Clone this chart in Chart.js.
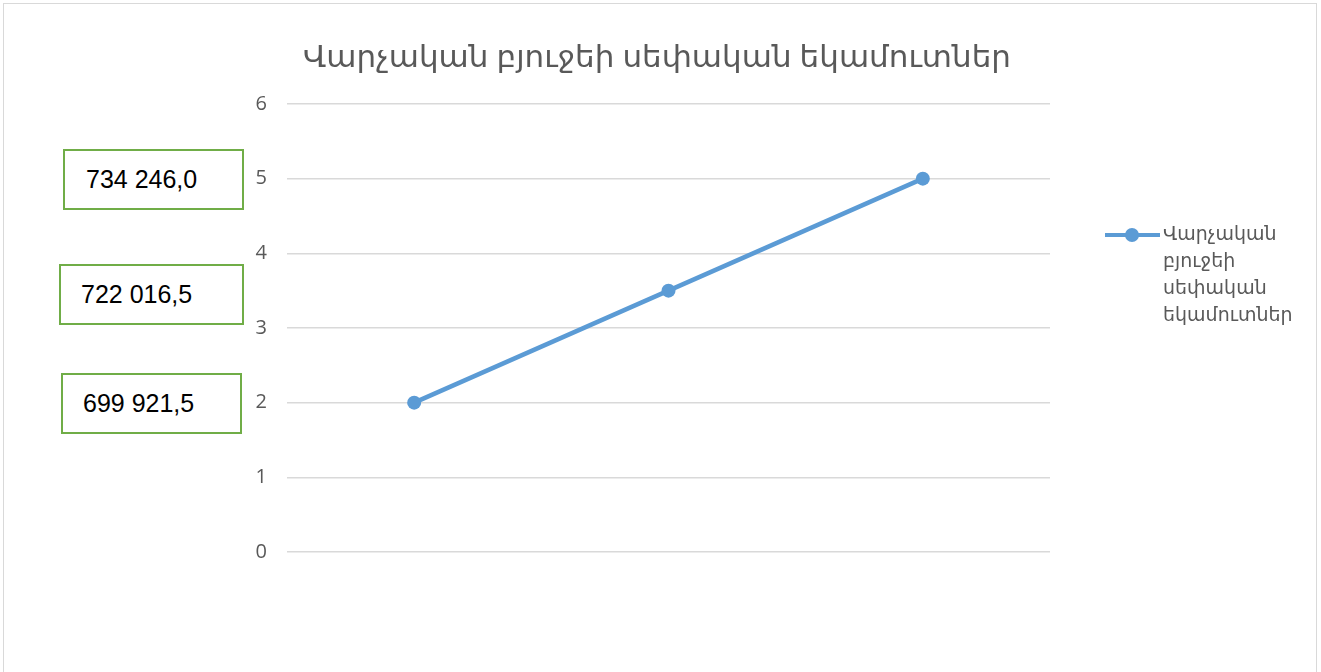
<!DOCTYPE html>
<html>
<head>
    <title>Վարչական բյուջեի սեփական եկամուտներ</title>
    <script src="https://cdn.jsdelivr.net/npm/chart.js"></script>
    <style>
        body {
            margin: 0;
            background: #fff;
            font-family: "Open Sans", "DejaVu Sans", sans-serif;
        }
        .wrap {
            position: relative;
            width: 1321px;
            height: 672px;
            overflow: hidden;
        }
        .frame {
            position: absolute;
            left: 3px;
            top: 3px;
            width: 1312px;
            height: 700px;
            border: 1px solid #d9d9d9;
        }
        canvas {
            position: absolute;
            left: 0;
            top: 0;
        }
        .note {
            position: absolute;
            box-sizing: border-box;
            height: 61px;
            border: 2px solid #70ad47;
            background: #fff;
            color: #000;
            font-family: "Liberation Sans", Arial, sans-serif;
            font-size: 25px;
            line-height: 57px;
        }
    </style>
</head>
<body>
    <div class="wrap">
        <div class="frame"></div>
        <canvas id="chart" width="1321" height="672"></canvas>
        <div id="notes"></div>
    </div>
    <script>
        var title = 'Վարչական բյուջեի սեփական եկամուտներ';
        var categories = ['1', '2', '3'];
        var values = [2, 3.5, 5];
        var yTicks = [0, 1, 2, 3, 4, 5, 6];
        // text boxes on the left and the value they sit next to
        var noteTexts = ['734 246,0', '722 016,5', '699 921,5'];
        var noteLevels = [5, 3.45, 2];
        var noteLeft = [63, 59, 61];
        var noteWidth = [181, 185, 181];
        var notePad = [21, 20, 20];

        var blue = '#5b9bd5';
        var grey = '#595959';

        var titlePlugin = {
            id: 'titleAndLegend',
            afterDraw: function(chart) {
                var c = chart.ctx;
                c.save();
                c.fillStyle = grey;
                c.textAlign = 'center';
                c.textBaseline = 'middle';
                c.font = '31px "Open Sans", "DejaVu Sans", sans-serif';
                c.fillText(title, 657, 58);

                // legend on the right, label wrapped word by word
                var ly = 235;
                c.strokeStyle = blue;
                c.lineWidth = 4;
                c.beginPath();
                c.moveTo(1105, ly);
                c.lineTo(1160, ly);
                c.stroke();
                c.fillStyle = blue;
                c.beginPath();
                c.arc(1132, ly, 7, 0, Math.PI * 2);
                c.fill();
                c.fillStyle = grey;
                c.textAlign = 'left';
                c.font = '19px "Open Sans", "DejaVu Sans", sans-serif';
                title.split(' ').forEach(function(w, i) {
                    c.fillText(w, 1163, ly + i * 27);
                });
                c.restore();
            }
        };

        var ctx = document.getElementById('chart').getContext('2d');
        var chart = new Chart(ctx, {
            type: 'line',
            data: {
                labels: categories,
                datasets: [{
                    label: title,
                    data: values,
                    borderColor: blue,
                    backgroundColor: blue,
                    borderWidth: 4.5,
                    pointRadius: 7,
                    pointHoverRadius: 7,
                    pointBorderWidth: 0,
                    tension: 0
                }]
            },
            options: {
                responsive: false,
                animation: false,
                layout: {
                    padding: { top: 104, bottom: 120, left: 227, right: 271 }
                },
                plugins: {
                    legend: { display: false },
                    title: { display: false },
                    tooltip: { enabled: false }
                },
                scales: {
                    x: {
                        display: false,
                        offset: true
                    },
                    y: {
                        min: 0,
                        max: 6,
                        afterFit: function(s) { s.width = 60; },
                        afterBuildTicks: function(s) {
                            s.ticks = yTicks.map(function(v) { return { value: v }; });
                        },
                        border: { display: false },
                        grid: {
                            color: '#d9d9d9',
                            lineWidth: 1.5,
                            drawTicks: false
                        },
                        ticks: {
                            padding: 20,
                            color: grey,
                            font: { family: '"Open Sans", "DejaVu Sans", sans-serif', size: 20 }
                        }
                    }
                }
            },
            plugins: [titlePlugin]
        });

        var holder = document.getElementById('notes');
        noteTexts.forEach(function(t, i) {
            var d = document.createElement('div');
            d.className = 'note';
            d.textContent = t;
            d.style.left = noteLeft[i] + 'px';
            d.style.width = noteWidth[i] + 'px';
            d.style.paddingLeft = notePad[i] + 'px';
            d.style.top = Math.round(chart.scales.y.getPixelForValue(noteLevels[i]) - 30) + 'px';
            holder.appendChild(d);
        });
    </script>
</body>
</html>
